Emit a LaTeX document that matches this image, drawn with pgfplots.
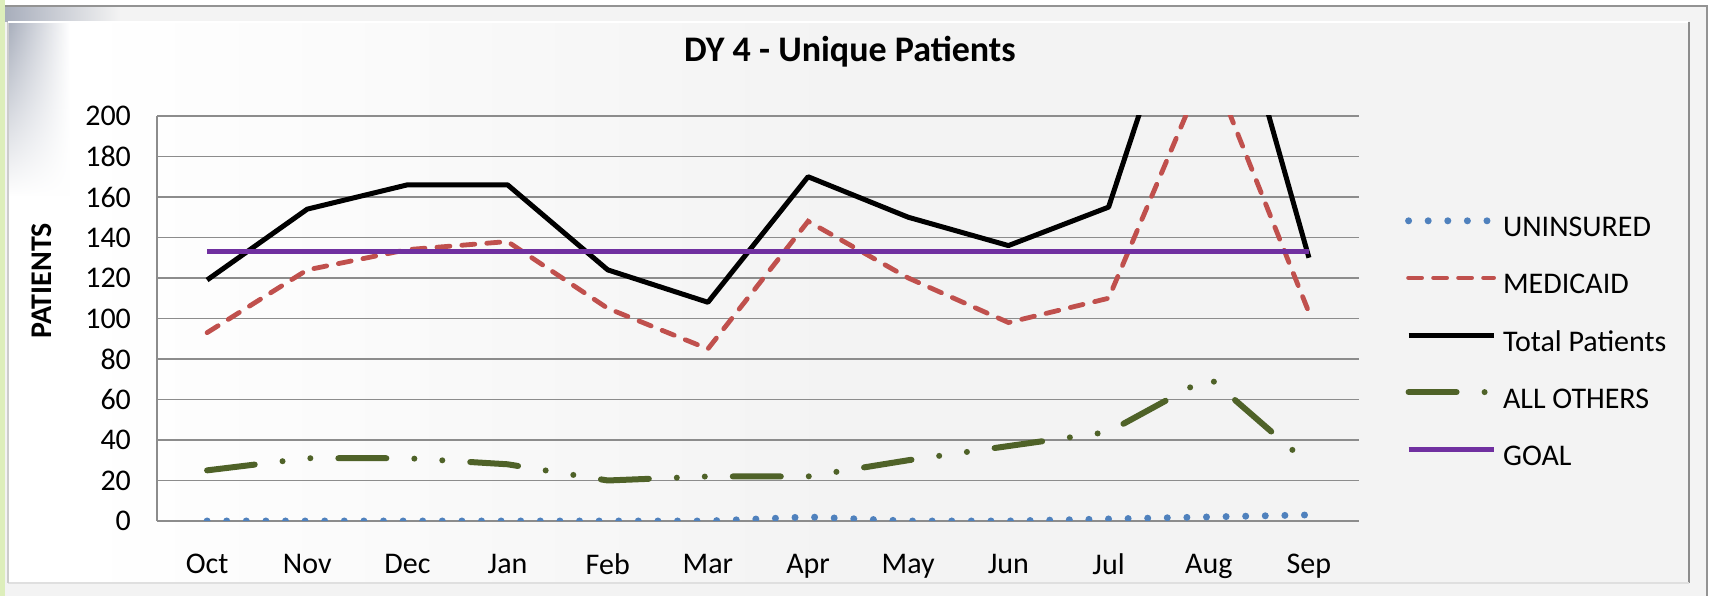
\documentclass[border=0pt]{standalone}
\usepackage{pgfplots}
\pgfplotsset{compat=1.18}
\usetikzlibrary{fadings}
\usepackage{fontspec}
\setmainfont{Carlito}
\definecolor{cUnins}{HTML}{4F81BD}
\definecolor{cMed}{HTML}{C0504D}
\definecolor{cOth}{HTML}{4F6228}
\definecolor{cGoal}{HTML}{7030A0}
\definecolor{cGrid}{HTML}{8C8C8C}
\definecolor{cBg}{HTML}{F3F3F3}
\definecolor{cGreen}{HTML}{DDEEBB}
\definecolor{cCorner}{HTML}{A8AEBC}

\begin{document}
\begin{tikzpicture}
% background frame
\fill[white] (0pt,0pt) rectangle (855.5pt,298pt);
\fill[cGreen] (0pt,0pt) rectangle (2.5pt,298pt);
\fill[cBg] (2.5pt,0pt) rectangle (853.5pt,295pt);
\fill[cBg] (4pt,6.5pt) rectangle (844.5pt,287pt);
\shade[left color=white, right color=cBg] (40pt,6.5pt) rectangle (420pt,287pt);
\fill[white] (4pt,6.5pt) rectangle (40pt,287pt);
\shade[left color=cCorner, right color=white, path fading=south] (4pt,200pt) rectangle (35pt,287pt);
\shade[left color=cCorner, right color=cBg] (2.5pt,287pt) rectangle (60pt,295pt);
\draw[gray!85, line width=1pt] (2.5pt,295pt) -- (853.5pt,295pt) -- (853.5pt,0pt);
\draw[gray!90, line width=1pt] (844.5pt,287pt) -- (844.5pt,6.5pt);
\draw[gray!25, line width=1pt] (4pt,6.5pt) -- (844.5pt,6.5pt);
\draw[gray!40, line width=0.8pt] (4pt,6.5pt) -- (4pt,287pt);
\draw[white, line width=1pt] (4pt,287pt) -- (844pt,287pt);

\begin{axis}[
  at={(78.5pt,37.5pt)}, anchor=south west,
  scale only axis, width=601pt, height=202.5pt,
  xmin=-0.5, xmax=11.5, ymin=0, ymax=200,
  axis lines*=left,
  axis line style={-, draw=cGrid, line width=0.75pt},
  ytick={0,20,...,200}, xtick={0,...,11},
  xticklabels={Oct,Nov,Dec,Jan,Feb,Mar,Apr,May,Jun,Jul,Aug,Sep},
  major tick length=0pt, tick style={draw=none},
  ymajorgrids, grid style={cGrid, line width=0.75pt},
  tick label style={font=\fontsize{15}{18}\selectfont},
  /pgf/number format/assume math mode=true,
  yticklabel style={xshift=-9.5pt},
  xticklabel style={yshift=-13pt},
  title={DY 4 - Unique Patients},
  title style={font=\bfseries\fontsize{18}{22}\selectfont, at={(axis description cs:0.5765,1.104)}, anchor=base},
  ylabel={PATIENTS},
  ylabel style={font=\bfseries\fontsize{15}{18}\selectfont, at={(axis description cs:-0.0961,0.593)}, anchor=center},
  legend style={at={(axis description cs:1.038,0.437)}, anchor=west, draw=none, fill=none,
    inner sep=0pt, row sep=15.55pt, column sep=3pt, font=\fontsize{15}{18}\selectfont,
    nodes={inner sep=0pt, text height=10pt, text depth=3pt}},
  legend cell align=left,
  legend image code/.code={\draw[#1] (0pt,4.5pt) -- (42.5pt,4.5pt);},
]
\addplot[cUnins, line width=3.5pt, line cap=round, dash pattern=on 0pt off 9.8pt]
  coordinates {(0,0) (1,0) (2,0) (3,0) (4,0) (5,0) (6,2) (7,0) (8,0) (9,1) (10,2) (11,3)};
\addlegendentry{UNINSURED}
\addplot[cMed, line width=2.4pt, line cap=round, dash pattern=on 6.5pt off 6pt]
  coordinates {(0,93) (1,124) (2,134) (3,138) (4,105) (5,85) (6,148) (7,120) (8,98) (9,110) (10,227) (11,103)};
\addlegendentry{MEDICAID}
\addplot[black, line width=2.5pt, line join=round]
  coordinates {(0,119) (1,154) (2,166) (3,166) (4,124) (5,108) (6,170) (7,150) (8,136) (9,155) (10,305) (11,130)};
\addlegendentry{Total Patients}
\addplot[cOth, line width=3pt, line cap=round, dash pattern=on 24pt off 14pt on 0pt off 14pt on 0pt off 14pt]
  coordinates {(0,25) (1,31) (2,31) (3,28) (4,20) (5,22) (6,22) (7,30) (8,37) (9,44) (10,71) (11,28)};
\addlegendentry{ALL OTHERS}
\addplot[cGoal, line width=2.5pt]
  coordinates {(0,133) (11,133)};
\addlegendentry{GOAL}
\end{axis}
\end{tikzpicture}
\end{document}
